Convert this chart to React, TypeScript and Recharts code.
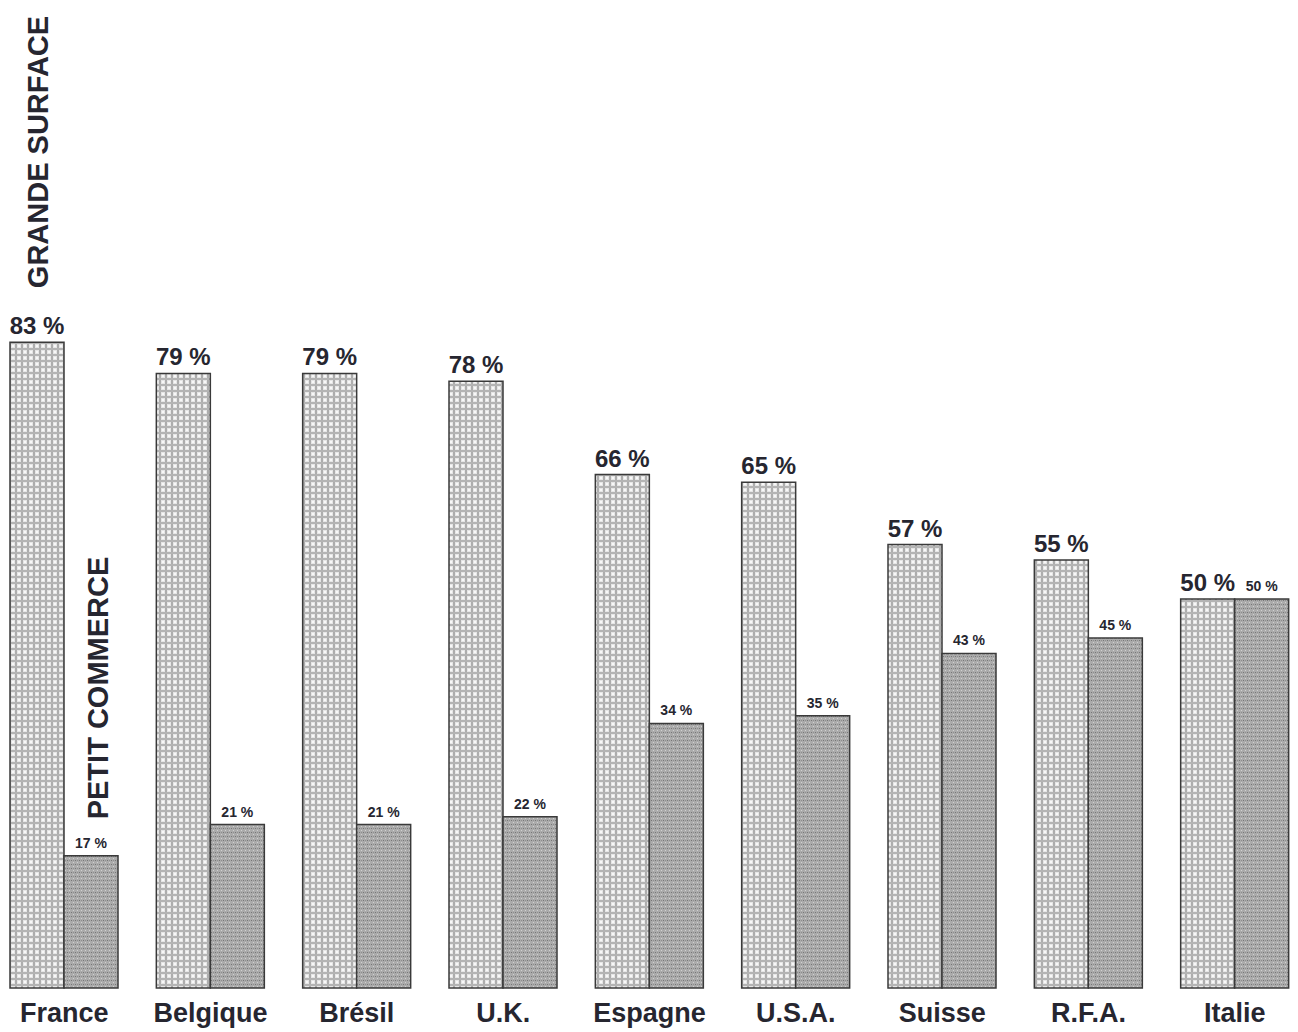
import React from 'react';
import { BarChart, Bar, XAxis, YAxis, LabelList } from 'recharts';

const countries = ['France', 'Belgique', 'Brésil', 'U.K.', 'Espagne', 'U.S.A.', 'Suisse', 'R.F.A.', 'Italie'];
const grandeSurface = [83, 79, 79, 78, 66, 65, 57, 55, 50];
const petitCommerce = [17, 21, 21, 22, 34, 35, 43, 45, 50];

const data = countries.map((country, i) => ({
  country,
  grande: grandeSurface[i],
  petit: petitCommerce[i],
}));

const FONT = '"Liberation Sans", Arial, Helvetica, sans-serif';
const INK = '#262630';

const pctLabel = (v: any) => `${v} %`;

const App = () => {
  return (
    <div
      style={{
        position: 'absolute',
        left: 0,
        top: 0,
        width: 1298,
        height: 1032,
        overflow: 'hidden',
        background: '#fff',
        fontFamily: FONT,
      }}
    >
      <div style={{ position: 'absolute', left: -9, top: 0 }}>
        <BarChart
          width={1317}
          height={1032}
          data={data}
          margin={{ top: 210, right: 0, left: 0, bottom: 14 }}
          barGap={0}
          barSize={54}
        >
          <defs>
            <pattern id="gridGrande" width="6" height="6" patternUnits="userSpaceOnUse">
              <rect width="6" height="6" fill="#e6e6e6" />
              <rect x="0" y="0" width="2" height="6" fill="#adadad" />
              <rect x="0" y="0" width="6" height="2" fill="#b4b4b4" />
              <rect x="3" y="3" width="2" height="2" fill="#f8f8f8" />
            </pattern>
            <pattern id="dotsPetit" width="4" height="4" patternUnits="userSpaceOnUse">
              <rect width="4" height="4" fill="#ababab" />
              <rect x="0" y="0" width="1" height="1" fill="#777" />
              <rect x="2" y="2" width="1" height="1" fill="#d0d0d0" />
              <rect x="2" y="0" width="1" height="1" fill="#8e8e8e" />
            </pattern>
          </defs>
          <XAxis
            dataKey="country"
            axisLine={false}
            tickLine={false}
            interval={0}
            height={30}
            tickMargin={9}
            tick={{ fontSize: 27, fontWeight: 700, fill: INK, fontFamily: FONT }}
          />
          <YAxis hide domain={[0, 100]} />
          <Bar
            dataKey="grande"
            fill="url(#gridGrande)"
            stroke="#3a3a3a"
            strokeWidth={1.5}
            isAnimationActive={false}
          >
            <LabelList
              dataKey="grande"
              position="top"
              offset={8}
              formatter={pctLabel}
              style={{ fontSize: 24, fontWeight: 600, fill: INK, fontFamily: FONT }}
            />
          </Bar>
          <Bar
            dataKey="petit"
            fill="url(#dotsPetit)"
            stroke="#3a3a3a"
            strokeWidth={1.5}
            isAnimationActive={false}
          >
            <LabelList
              dataKey="petit"
              position="top"
              offset={8}
              formatter={pctLabel}
              style={{ fontSize: 14, fontWeight: 700, fill: INK, fontFamily: FONT }}
            />
          </Bar>
        </BarChart>
      </div>
      <svg
        width={1298}
        height={1032}
        style={{ position: 'absolute', left: 0, top: 0, pointerEvents: 'none' }}
      >
        <text
          transform="translate(48, 152) rotate(-90)"
          textAnchor="middle"
          fontSize={29}
          fontWeight={700}
          fill={INK}
          fontFamily={FONT}
        >
          GRANDE SURFACE
        </text>
        <text
          transform="translate(108, 688) rotate(-90)"
          textAnchor="middle"
          fontSize={29}
          fontWeight={700}
          fill={INK}
          fontFamily={FONT}
        >
          PETIT COMMERCE
        </text>
      </svg>
    </div>
  );
};

export default App;
